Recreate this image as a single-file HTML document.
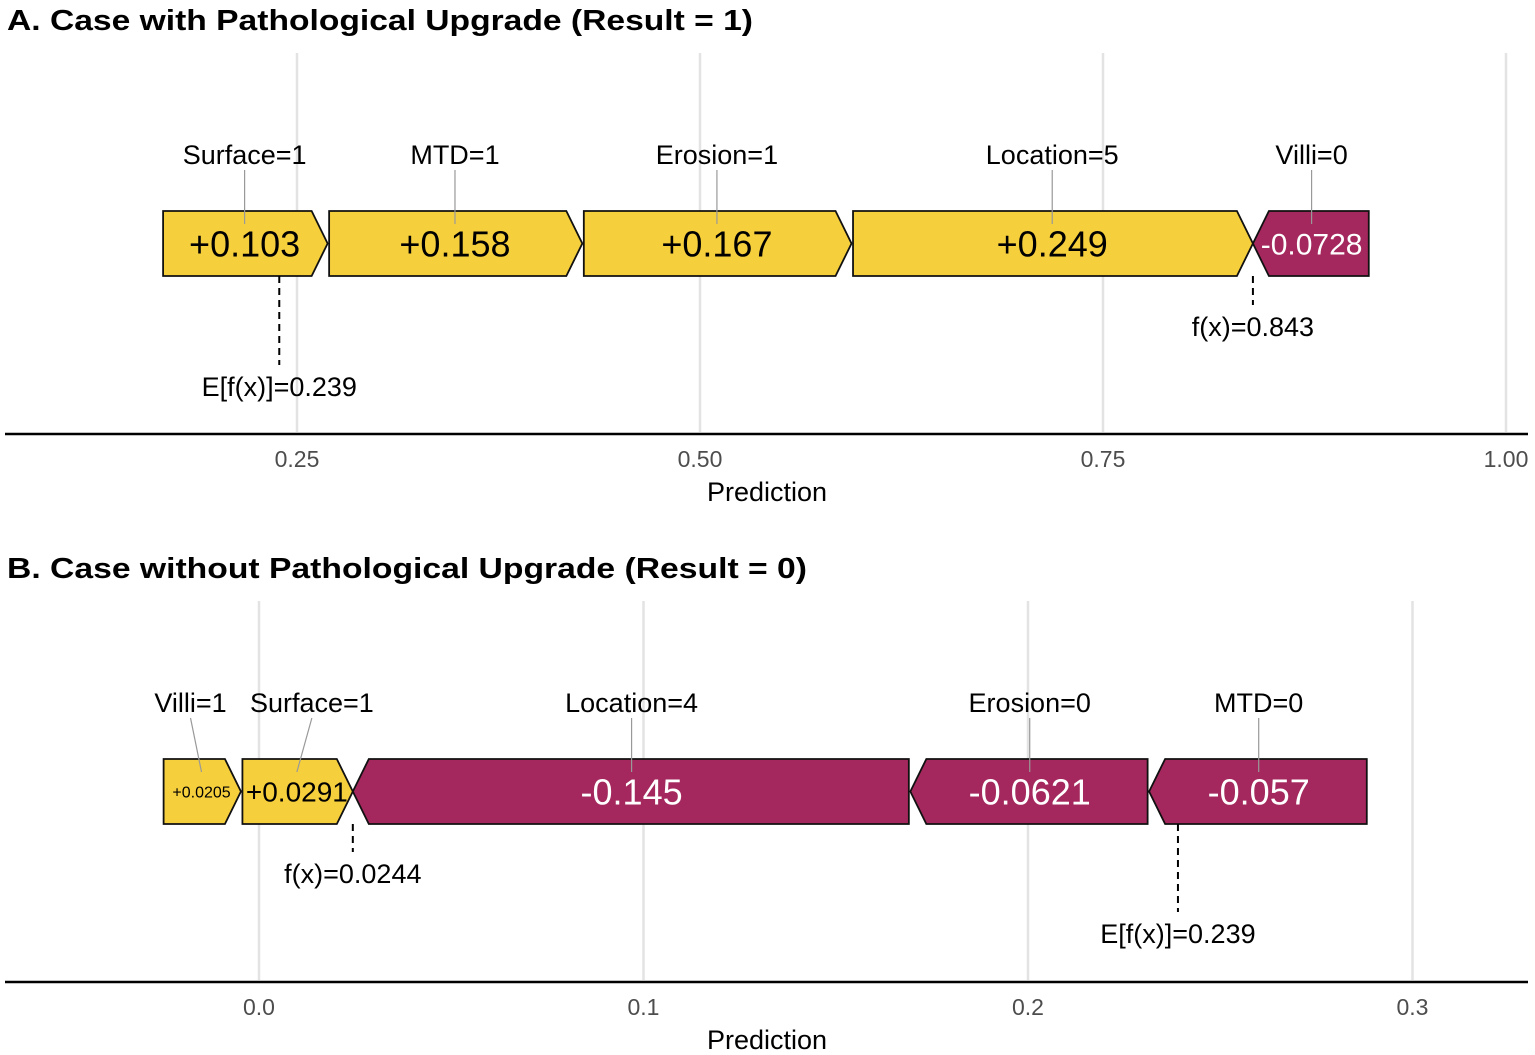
<!DOCTYPE html>
<html><head><meta charset="utf-8"><style>
html,body{margin:0;padding:0;background:#fff;}
svg{display:block;font-family:"Liberation Sans",Arial,sans-serif;}
</style></head><body>
<svg id="c" width="1535" height="1055" viewBox="0 0 1535 1055" xmlns="http://www.w3.org/2000/svg"></svg>
<script>
// Panel A data
const aFeatures = ["Surface=1","MTD=1","Erosion=1","Location=5","Villi=0"];
const aValues = [0.103,0.158,0.167,0.249,-0.0728];
const aLabels = ["+0.103","+0.158","+0.167","+0.249","-0.0728"];
const aFx = 0.843, aBase = 0.239;
const aTicks = [0.25,0.5,0.75,1.0];
const aTickLabels = ["0.25","0.50","0.75","1.00"];
// Panel B data
const bFeatures = ["Villi=1","Surface=1","Location=4","Erosion=0","MTD=0"];
const bValues = [0.0205,0.0291,-0.145,-0.0621,-0.057];
const bLabels = ["+0.0205","+0.0291","-0.145","-0.0621","-0.057"];
const bFx = 0.0244, bBase = 0.239;
const bTicks = [0,0.1,0.2,0.3];
const bTickLabels = ["0.0","0.1","0.2","0.3"];

const NS="http://www.w3.org/2000/svg";
const svg=document.getElementById('c');
function el(tag,attrs,parent){const e=document.createElementNS(NS,tag);for(const k in attrs)e.setAttribute(k,attrs[k]);(parent||svg).appendChild(e);return e;}
function txt(s,attrs,parent){const e=el('text',attrs,parent);e.textContent=s;return e;}

function panel(o){
  const g=el('g',{});
  
  
  const X=v=>o.x0+(v-o.v0)*o.k;
  const t=txt(o.title,{x:7,y:o.top+30,'font-size':29,'font-weight':'bold',fill:'#000',textLength:o.titleLen,lengthAdjust:'spacingAndGlyphs'},g);
  
  
  o.ticks.forEach((v,i)=>{
    const l=el('line',{x1:X(v),x2:X(v),y1:o.top+53,y2:o.top+432,stroke:'#e3e3e3','stroke-width':2.5},g);
    
    
    const tl=txt(o.tickLabels[i],{x:X(v),y:o.top+467,'font-size':23,fill:'#4d4d4d','text-anchor':'middle'},g);
    
    
  });
  const ax=el('line',{x1:5,x2:1528,y1:o.top+434,y2:o.top+434,stroke:'#000','stroke-width':2.5},g);
  
  
  const at=txt('Prediction',{x:767,y:o.top+501,'font-size':27,fill:'#000','text-anchor':'middle'},g);
  
  
  const pos=o.values.map((v,i)=>i).filter(i=>o.values[i]>0);
  const neg=o.values.map((v,i)=>i).filter(i=>o.values[i]<0);
  let sumPos=pos.reduce((s,i)=>s+o.values[i],0);
  let cur=o.fx-sumPos;
  const yT=o.top+211,yB=o.top+276,yM=(yT+yB)/2,tip=16,gap=1.5;
  const segs=[];
  pos.forEach(i=>{segs.push({i,a:cur,b:cur+o.values[i]});cur+=o.values[i];});
  cur=o.fx;
  neg.forEach(i=>{segs.push({i,a:cur,b:cur-o.values[i]});cur-=o.values[i];});
  segs.forEach(s=>{
    const xa=X(s.a),xb=X(s.b),pos_=o.values[s.i]>0;
    let pts;
    if(pos_){const L=xa+gap;pts=[[L,yT],[xb-tip,yT],[xb,yM],[xb-tip,yB],[L,yB]];}
    else{const R=xb-gap;pts=[[xa+tip,yT],[R,yT],[R,yB],[xa+tip,yB],[xa,yM]];}
    const p=el('polygon',{points:pts.map(q=>q.join(',')).join(' '),fill:pos_?'#F6CF3C':'#A4285D',stroke:'#111','stroke-width':1.8},g);
    
    
    const cx=(xa+xb)/2;
    const w=xb-xa;
    const fs=w<90?16:(w<115?28:(w<130?30:36));
    const vt=txt(o.labels[s.i],{x:cx,y:yM+fs*0.36,'font-size':fs,fill:pos_?'#000':'#fff','text-anchor':'middle'},g);
    
    
    const lx=cx+(o.labelShift[s.i]||0);
    const ln=el('line',{x1:lx,y1:o.top+170,x2:cx,y2:o.top+224,stroke:'#999','stroke-width':1.2},g);
    
    
    const ft=txt(o.features[s.i],{x:lx,y:o.top+164,'font-size':27,fill:'#000','text-anchor':'middle'},g);
    
    
  });
  [[o.base,'E[f(x)]='+o.baseTxt,o.baseLen],[o.fx,'f(x)='+o.fxTxt,o.fxLen]].forEach(m=>{
    const x=X(m[0]);
    const d=el('line',{x1:x,x2:x,y1:yB,y2:yB+m[2],stroke:'#000','stroke-width':2,'stroke-dasharray':'7,5'},g);
    
    
    const mt=txt(m[1],{x:x,y:yB+m[2]+31,'font-size':27,fill:'#000','text-anchor':'middle'},g);
    
    
  });
}
panel({name:'panel-a',top:0,title:'A. Case with Pathological Upgrade (Result = 1)',titleLen:746,
  x0:297,v0:0.25,k:1612,ticks:aTicks,tickLabels:aTickLabels,features:aFeatures,values:aValues,labels:aLabels,
  fx:aFx,base:aBase,fxTxt:'0.843',baseTxt:'0.239',baseLen:89,fxLen:29,labelShift:{}});
panel({name:'panel-b',top:548,title:'B. Case without Pathological Upgrade (Result = 0)',titleLen:800,
  x0:259,v0:0,k:3845,ticks:bTicks,tickLabels:bTickLabels,features:bFeatures,values:bValues,labels:bLabels,
  fx:bFx,base:bBase,fxTxt:'0.0244',baseTxt:'0.239',baseLen:88,fxLen:28,labelShift:{0:-11,1:15}});
</script>
</body></html>
